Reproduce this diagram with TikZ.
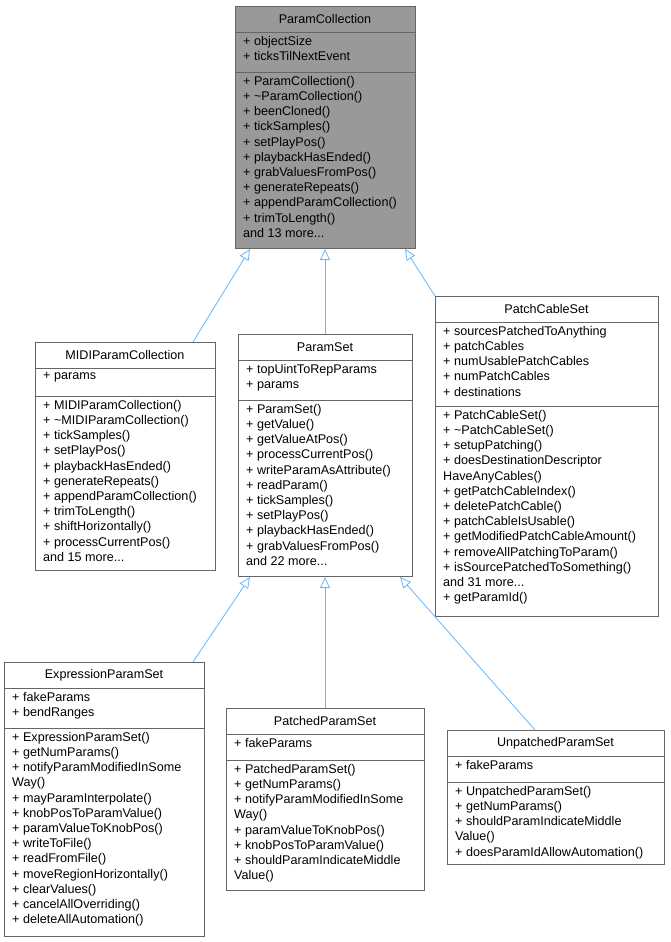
\documentclass[tikz,border=0pt]{standalone}
\usepackage{fontspec}
\setmainfont{Liberation Sans}
\usetikzlibrary{arrows.meta}
\definecolor{edgec}{HTML}{63B8FF}
\definecolor{bordc}{HTML}{666666}
\tikzset{
  txt/.style={anchor=north west,inner sep=0pt,align=left,font=\fontsize{12.6}{15.2}\selectfont},
  ttl/.style={inner sep=0pt,font=\fontsize{12.6}{15.2}\selectfont},
  boxln/.style={draw=bordc,line width=0.8pt},
  inherit/.style={draw=edgec,line width=0.8pt,-{Triangle[open,length=11pt,width=10pt]}}
}
\newcommand{\umlbox}[9]{%
  \fill[#9] (#2,#3) rectangle (#4,#7);
  \draw[boxln] (#2,#3) rectangle (#4,#7);
  \draw[boxln] (#2,#5) -- (#4,#5);
  \draw[boxln] (#2,#6) -- (#4,#6);
  \node[ttl] (#1) at ({(#2+#4)/2},{(#3+#5)/2}) {#8};
  \coordinate (#1-top) at ({(#2+#4)/2},#3);
  \coordinate (#1-bot) at ({(#2+#4)/2},#7);
}
\begin{document}
\begin{tikzpicture}[x=1pt,y=-1pt]
\useasboundingbox (0,0) rectangle (670,942);
\fill[white] (0,0) rectangle (670,942);
% ParamCollection
\umlbox{pc}{235}{6}{415}{32}{72}{248}{ParamCollection}{fill=black!40}
\node[txt] (pca) at (243,36) {+ objectSize\\+ ticksTilNextEvent};
\node[txt] (pcm) at (243,76) {+ ParamCollection()\\+ \textasciitilde ParamCollection()\\+ beenCloned()\\+ tickSamples()\\+ setPlayPos()\\+ playbackHasEnded()\\+ grabValuesFromPos()\\+ generateRepeats()\\+ appendParamCollection()\\+ trimToLength()\\and 13 more...};
% MIDI
\umlbox{midi}{35}{342}{215}{368}{396}{570}{MIDIParamCollection}{fill=white}
\node[txt] (midia) at (43,372) {+ params};
\node[txt] (midim) at (43,400) {+ MIDIParamCollection()\\+ \textasciitilde MIDIParamCollection()\\+ tickSamples()\\+ setPlayPos()\\+ playbackHasEnded()\\+ generateRepeats()\\+ appendParamCollection()\\+ trimToLength()\\+ shiftHorizontally()\\+ processCurrentPos()\\and 15 more...};
% ParamSet
\umlbox{ps}{238}{334}{412}{360}{400}{576}{ParamSet}{fill=white}
\node[txt] (psa) at (246,364) {+ topUintToRepParams\\+ params};
\node[txt] (psm) at (246,404) {+ ParamSet()\\+ getValue()\\+ getValueAtPos()\\+ processCurrentPos()\\+ writeParamAsAttribute()\\+ readParam()\\+ tickSamples()\\+ setPlayPos()\\+ playbackHasEnded()\\+ grabValuesFromPos()\\and 22 more...};
% PatchCableSet
\umlbox{pcs}{435}{296}{658}{322}{406}{616}{PatchCableSet}{fill=white}
\node[txt] (pcsa) at (443,326) {+ sourcesPatchedToAnything\\+ patchCables\\+ numUsablePatchCables\\+ numPatchCables\\+ destinations};
\node[txt] (pcsm) at (443,410) {+ PatchCableSet()\\+ \textasciitilde PatchCableSet()\\+ setupPatching()\\+ doesDestinationDescriptor\\HaveAnyCables()\\+ getPatchCableIndex()\\+ deletePatchCable()\\+ patchCableIsUsable()\\+ getModifiedPatchCableAmount()\\+ removeAllPatchingToParam()\\+ isSourcePatchedToSomething()\\and 31 more...\\+ getParamId()};
% Expression
\umlbox{eps}{4}{662}{204}{688}{728}{936}{ExpressionParamSet}{fill=white}
\node[txt] (epsa) at (12,692) {+ fakeParams\\+ bendRanges};
\node[txt] (epsm) at (12,732) {+ ExpressionParamSet()\\+ getNumParams()\\+ notifyParamModifiedInSome\\Way()\\+ mayParamInterpolate()\\+ knobPosToParamValue()\\+ paramValueToKnobPos()\\+ writeToFile()\\+ readFromFile()\\+ moveRegionHorizontally()\\+ clearValues()\\+ cancelAllOverriding()\\+ deleteAllAutomation()};
% Patched
\umlbox{pps}{226}{708}{424}{734}{760}{890}{PatchedParamSet}{fill=white}
\node[txt] (ppsa) at (234,738) {+ fakeParams};
\node[txt] (ppsm) at (234,764) {+ PatchedParamSet()\\+ getNumParams()\\+ notifyParamModifiedInSome\\Way()\\+ paramValueToKnobPos()\\+ knobPosToParamValue()\\+ shouldParamIndicateMiddle\\Value()};
% Unpatched
\umlbox{ups}{447}{730}{664}{756}{782}{864}{UnpatchedParamSet}{fill=white}
\node[txt] (upsa) at (455,760) {+ fakeParams};
\node[txt] (upsm) at (455,786) {+ UnpatchedParamSet()\\+ getNumParams()\\+ shouldParamIndicateMiddle\\Value()\\+ doesParamIdAllowAutomation()};
% inheritance
\draw[inherit] (193,342) -- (250,249);
\draw[inherit] (ps-top) -- (325,249);
\draw[inherit] (435,296) -- (405,249);
\draw[inherit] (193,662) -- (250,577);
\draw[inherit] (pps-top) -- (325,577);
\draw[inherit] (535,730) -- (400,577);
\end{tikzpicture}
\end{document}
